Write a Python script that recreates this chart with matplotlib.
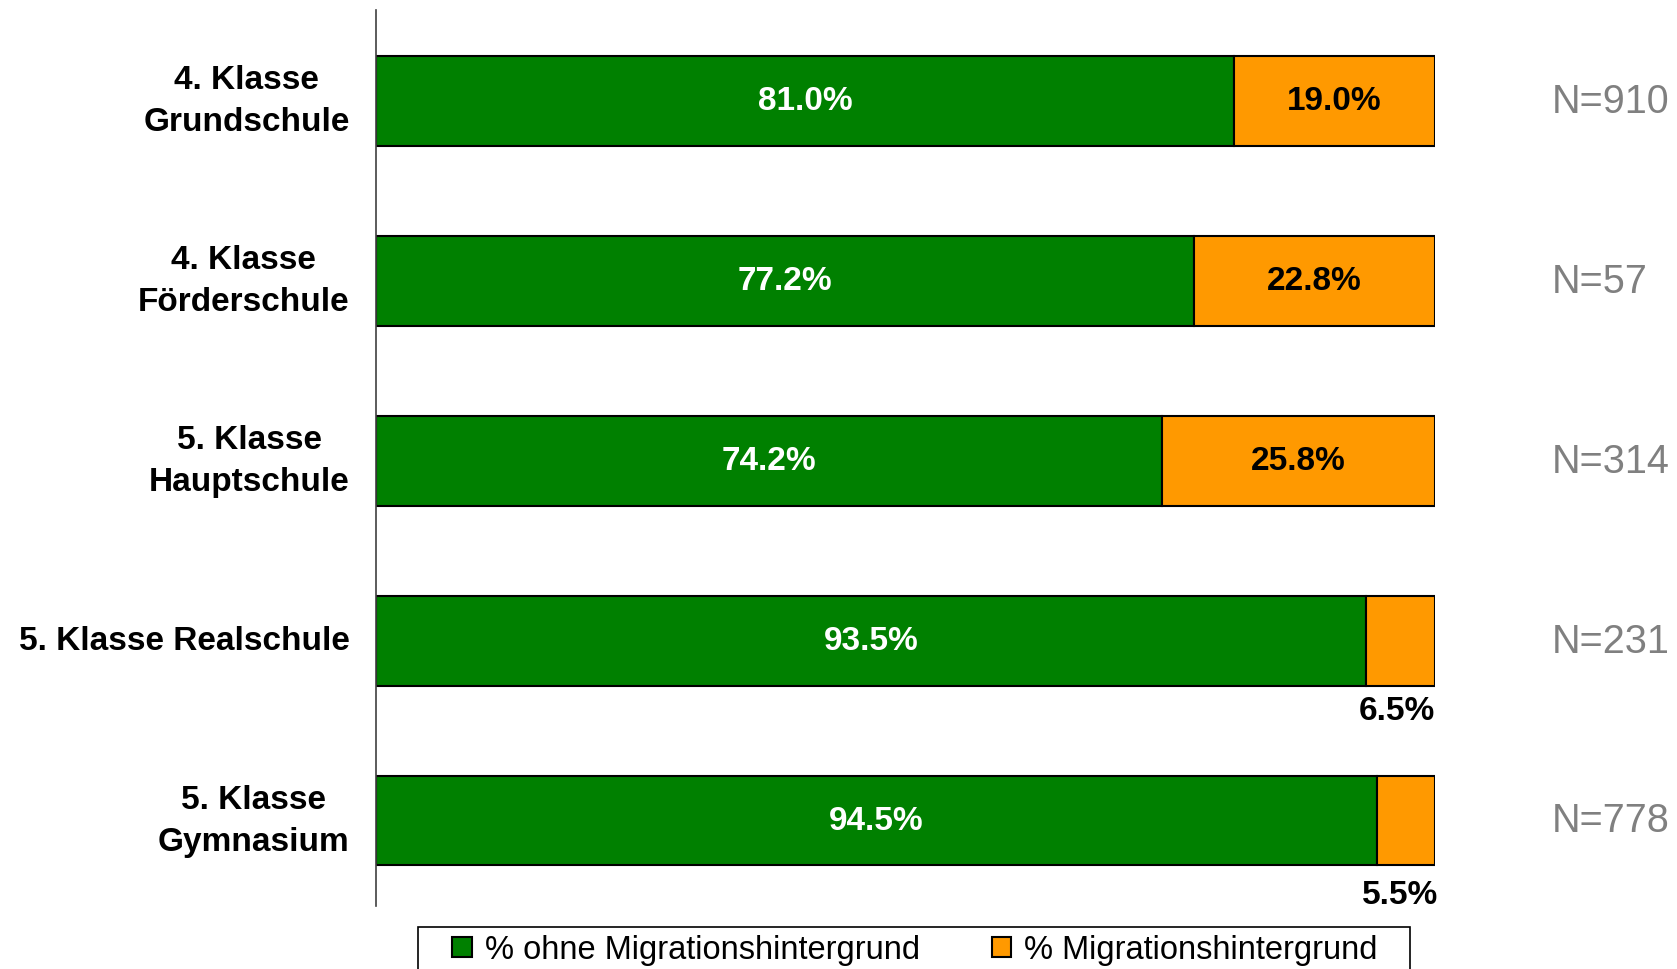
import matplotlib
matplotlib.use("Agg")
import matplotlib.pyplot as plt
from matplotlib.patches import Patch, Rectangle

categories = ["4. Klasse\nGrundschule", "4. Klasse\nFörderschule", "5. Klasse\nHauptschule",
              "5. Klasse Realschule", "5. Klasse\nGymnasium"]
ohne = [81.0, 77.2, 74.2, 93.5, 94.5]
mit = [19.0, 22.8, 25.8, 6.5, 5.5]
n_labels = ["N=910", "N=57", "N=314", "N=231", "N=778"]
series_names = ["% ohne Migrationshintergrund", "% Migrationshintergrund"]

GREEN = "#008000"
ORANGE = "#FF9900"

plt.rcParams['font.family'] = ['Liberation Sans', 'DejaVu Sans']

fig = plt.figure(figsize=(16.77, 9.70), dpi=100)
ax = fig.add_axes([0.2242, 0.065, 0.6315, 0.9237])

ypos = list(range(len(categories)))
ax.barh(ypos, ohne, height=0.5, color=GREEN, edgecolor="black", linewidth=1.5)
ax.barh(ypos, mit, left=ohne, height=0.5, color=ORANGE, edgecolor="black", linewidth=1.5)

for i, (a, b) in enumerate(zip(ohne, mit)):
    ax.text(a / 2, i, f"{a:.1f}%", ha="center", va="center", color="white",
            fontsize=24, fontweight="bold")
    if b >= 10:
        ax.text(a + b / 2, i, f"{b:.1f}%", ha="center", va="center", color="black",
                fontsize=24, fontweight="bold")
    else:
        ax.text(a + b + (0.3 if i == 4 else 0.0), i + 0.39 + (0.02 if i == 4 else 0), f"{b:.1f}%",
                ha="right", va="center", color="black", fontsize=24, fontweight="bold")
    ax.text(111, i, n_labels[i], ha="left", va="center", color="#808080", fontsize=28.5)

ax.set_xlim(0, 100)
ax.set_ylim(4.475, -0.505)
ax.set_yticks(ypos)
ax.set_yticklabels(categories, fontsize=24, fontweight="bold", multialignment="center",
                   linespacing=1.45, va="center")
ax.tick_params(axis="y", length=0, pad=19)
ax.set_xticks([])
for s in ["top", "right", "bottom"]:
    ax.spines[s].set_visible(False)
ax.spines["left"].set_color("#404040")
ax.spines["left"].set_linewidth(1.2)

handles = [Patch(facecolor=GREEN, edgecolor="black", linewidth=1.5),
           Patch(facecolor=ORANGE, edgecolor="black", linewidth=1.5)]
leg = fig.legend(handles, series_names, loc="center", bbox_to_anchor=(0.5455, 0.0196),
                 ncol=2, fontsize=23.5, frameon=False,
                 handlelength=0.6, handleheight=0.6, handletextpad=0.4, columnspacing=2.2,
                 borderpad=0.0, borderaxespad=0)
x0 = 418 / 1677
x1 = 1410 / 1677
fig.patches.append(Rectangle((x0, -0.02), x1 - x0, 0.02 + 1 - 928 / 970, transform=fig.transFigure,
                             fill=False, edgecolor="black", linewidth=1.2))

fig.savefig("out.png", dpi=100)
